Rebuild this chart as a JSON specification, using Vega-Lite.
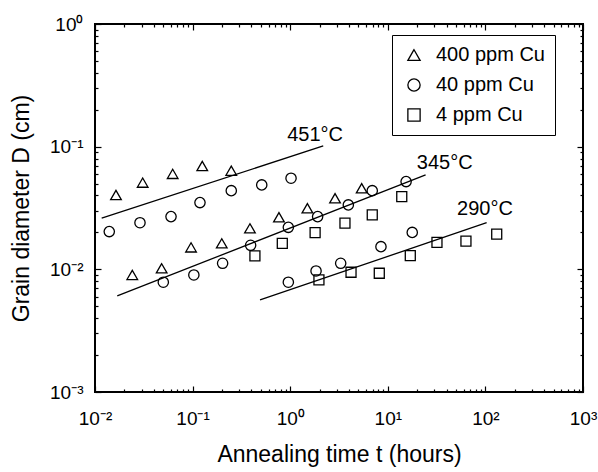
{
  "$schema": "https://vega.github.io/schema/vega-lite/v6.json",
  "autosize": {"type": "none"},
  "padding": {"left": 95, "top": 24, "right": 15, "bottom": 80},
  "width": 488,
  "height": 368,
  "background": "white",
  "config": {
    "view": {"stroke": "black", "strokeWidth": 2},
    "font": "Liberation Sans",
    "axis": {
      "domain": false,
      "grid": false,
      "ticks": true,
      "tickColor": "black",
      "tickOpacity": 1,
      "tickWidth": 1.2,
      "labelColor": "black",
      "labelFont": "Liberation Sans",
      "labelFontSize": 19,
      "labelFlush": false,
      "labelOverlap": false,
      "titleColor": "black",
      "titleFont": "Liberation Sans",
      "titleFontSize": 23,
      "titleFontWeight": "normal"
    }
  },
  "datasets": {
    "pts": [
      {"t": 0.0164, "D": 0.0404, "series": "400 ppm Cu"},
      {"t": 0.0241, "D": 0.0090, "series": "400 ppm Cu"},
      {"t": 0.0308, "D": 0.0509, "series": "400 ppm Cu"},
      {"t": 0.0482, "D": 0.0102, "series": "400 ppm Cu"},
      {"t": 0.0625, "D": 0.0600, "series": "400 ppm Cu"},
      {"t": 0.0964, "D": 0.0151, "series": "400 ppm Cu"},
      {"t": 0.1256, "D": 0.0696, "series": "400 ppm Cu"},
      {"t": 0.199, "D": 0.0163, "series": "400 ppm Cu"},
      {"t": 0.249, "D": 0.0637, "series": "400 ppm Cu"},
      {"t": 0.387, "D": 0.0216, "series": "400 ppm Cu"},
      {"t": 0.767, "D": 0.0266, "series": "400 ppm Cu"},
      {"t": 1.50, "D": 0.0315, "series": "400 ppm Cu"},
      {"t": 2.88, "D": 0.0380, "series": "400 ppm Cu"},
      {"t": 5.40, "D": 0.0458, "series": "400 ppm Cu"},
      {"t": 0.0140, "D": 0.0203, "series": "40 ppm Cu"},
      {"t": 0.0289, "D": 0.0240, "series": "40 ppm Cu"},
      {"t": 0.0601, "D": 0.0269, "series": "40 ppm Cu"},
      {"t": 0.119, "D": 0.0350, "series": "40 ppm Cu"},
      {"t": 0.249, "D": 0.0438, "series": "40 ppm Cu"},
      {"t": 0.511, "D": 0.0488, "series": "40 ppm Cu"},
      {"t": 1.02, "D": 0.0553, "series": "40 ppm Cu"},
      {"t": 0.0501, "D": 0.00785, "series": "40 ppm Cu"},
      {"t": 0.103, "D": 0.0090, "series": "40 ppm Cu"},
      {"t": 0.203, "D": 0.0112, "series": "40 ppm Cu"},
      {"t": 0.393, "D": 0.0157, "series": "40 ppm Cu"},
      {"t": 0.957, "D": 0.0220, "series": "40 ppm Cu"},
      {"t": 1.91, "D": 0.0269, "series": "40 ppm Cu"},
      {"t": 3.94, "D": 0.0335, "series": "40 ppm Cu"},
      {"t": 6.93, "D": 0.0438, "series": "40 ppm Cu"},
      {"t": 15.4, "D": 0.0519, "series": "40 ppm Cu"},
      {"t": 0.957, "D": 0.00785, "series": "40 ppm Cu"},
      {"t": 1.84, "D": 0.0097, "series": "40 ppm Cu"},
      {"t": 3.29, "D": 0.0112, "series": "40 ppm Cu"},
      {"t": 8.51, "D": 0.0153, "series": "40 ppm Cu"},
      {"t": 17.8, "D": 0.0200, "series": "40 ppm Cu"},
      {"t": 0.435, "D": 0.01286, "series": "4 ppm Cu"},
      {"t": 0.830, "D": 0.0163, "series": "4 ppm Cu"},
      {"t": 1.80, "D": 0.0199, "series": "4 ppm Cu"},
      {"t": 3.64, "D": 0.0238, "series": "4 ppm Cu"},
      {"t": 6.93, "D": 0.0278, "series": "4 ppm Cu"},
      {"t": 13.9, "D": 0.0391, "series": "4 ppm Cu"},
      {"t": 1.97, "D": 0.0082, "series": "4 ppm Cu"},
      {"t": 4.20, "D": 0.00947, "series": "4 ppm Cu"},
      {"t": 8.18, "D": 0.00929, "series": "4 ppm Cu"},
      {"t": 17.0, "D": 0.01294, "series": "4 ppm Cu"},
      {"t": 31.9, "D": 0.0166, "series": "4 ppm Cu"},
      {"t": 63.2, "D": 0.0170, "series": "4 ppm Cu"},
      {"t": 130.6, "D": 0.0194, "series": "4 ppm Cu"}
    ],
    "fits": [
      {"t": 0.01171, "D": 0.0261, "temp": "451"},
      {"t": 2.18, "D": 0.1013, "temp": "451"},
      {"t": 0.0169, "D": 0.00607, "temp": "345"},
      {"t": 24.4, "D": 0.0588, "temp": "345"},
      {"t": 0.491, "D": 0.00563, "temp": "290"},
      {"t": 103, "D": 0.0240, "temp": "290"}
    ],
    "labelsA": [
      {"t": 1.80, "D": 0.1245, "label": "451°C"}
    ],
    "labelsB": [
      {"t": 38.3, "D": 0.0741, "label": "345°C"},
      {"t": 99.1, "D": 0.0309, "label": "290°C"}
    ]
  },
  "resolve": {"axis": {"x": "independent", "y": "independent"}},
  "layer": [
    {
      "data": {"name": "fits"},
      "mark": {"type": "line", "color": "black", "strokeWidth": 1.3},
      "encoding": {
        "x": {
          "field": "t", "type": "quantitative",
          "scale": {"type": "log", "domain": [0.01, 1000], "nice": false},
          "axis": {
            "orient": "bottom",
            "title": "Annealing time t (hours)",
            "titlePadding": 15,
            "labelPadding": 17,
            "ticks": true, "tickColor": "black", "tickOpacity": 1, "tickWidth": 1.2,
            "tickSize": 6,
            "offset": -6,
            "values": [0.01, 0.1, 1, 10, 100, 1000],
            "labelExpr": "'10' + ['⁻³','⁻²','⁻¹','⁰','¹','²','³'][round(log(datum.value)/LN10)+3]"
          }
        },
        "y": {
          "field": "D", "type": "quantitative",
          "scale": {"type": "log", "domain": [0.001, 1], "nice": false},
          "axis": {
            "orient": "left",
            "title": "Grain diameter D (cm)",
            "titlePadding": 16,
            "labelPadding": 12,
            "ticks": true, "tickColor": "black", "tickOpacity": 1, "tickWidth": 1.2,
            "tickSize": 6,
            "offset": -6,
            "values": [0.001, 0.01, 0.1, 1],
            "labelExpr": "'10' + ['⁻³','⁻²','⁻¹','⁰','¹','²','³'][round(log(datum.value)/LN10)+3]"
          }
        },
        "detail": {"field": "temp"}
      }
    },
    {
      "data": {"name": "pts"},
      "mark": {"type": "point", "filled": false, "stroke": "black", "strokeWidth": 1.3, "opacity": 1},
      "encoding": {
        "x": {
          "field": "t", "type": "quantitative",
          "axis": {
            "orient": "bottom", "title": null, "labels": false,
            "ticks": true, "tickColor": "black", "tickOpacity": 1, "tickWidth": 1.2,
            "tickSize": 3, "offset": -3,
            "values": [0.02,0.03,0.04,0.05,0.06,0.07,0.08,0.09,0.2,0.3,0.4,0.5,0.6,0.7,0.8,0.9,2,3,4,5,6,7,8,9,20,30,40,50,60,70,80,90,200,300,400,500,600,700,800,900]
          }
        },
        "y": {
          "field": "D", "type": "quantitative",
          "axis": {
            "orient": "left", "title": null, "labels": false,
            "ticks": true, "tickColor": "black", "tickOpacity": 1, "tickWidth": 1.2,
            "tickSize": 3, "offset": -3,
            "values": [0.002,0.003,0.004,0.005,0.006,0.007,0.008,0.009,0.02,0.03,0.04,0.05,0.06,0.07,0.08,0.09,0.2,0.3,0.4,0.5,0.6,0.7,0.8,0.9]
          }
        },
        "shape": {
          "field": "series", "type": "nominal",
          "scale": {"domain": ["400 ppm Cu", "40 ppm Cu", "4 ppm Cu"], "range": ["triangle-up", "circle", "square"]},
          "legend": {
            "title": null, "orient": "none", "legendX": 297, "legendY": 11,
            "strokeColor": "black", "padding": 10,
            "labelFontSize": 20, "labelFont": "Liberation Sans", "labelColor": "black",
            "symbolSize": 150, "symbolStrokeColor": "black", "symbolFillColor": "white",
            "symbolStrokeWidth": 1.3, "rowPadding": 10, "labelOffset": 12, "symbolOffset": 2
          }
        },
        "size": {
          "field": "series", "type": "nominal",
          "scale": {"domain": ["4 ppm Cu", "40 ppm Cu", "400 ppm Cu"], "range": [100, 113, 210]},
          "legend": null
        }
      }
    },
    {
      "data": {"name": "labelsA"},
      "mark": {"type": "text", "fontSize": 20, "font": "Liberation Sans", "color": "black", "align": "center", "baseline": "middle"},
      "encoding": {
        "x": {
          "field": "t", "type": "quantitative",
          "axis": {"orient": "top", "title": null, "labels": false, "ticks": true, "tickColor": "black", "tickOpacity": 1, "tickWidth": 1.2, "tickSize": 6, "offset": -6, "values": [0.01, 0.1, 1, 10, 100, 1000]}
        },
        "y": {
          "field": "D", "type": "quantitative",
          "axis": {"orient": "right", "title": null, "labels": false, "ticks": true, "tickColor": "black", "tickOpacity": 1, "tickWidth": 1.2, "tickSize": 6, "offset": -6, "values": [0.001, 0.01, 0.1, 1]}
        },
        "text": {"field": "label"}
      }
    },
    {
      "data": {"name": "labelsB"},
      "mark": {"type": "text", "fontSize": 20, "font": "Liberation Sans", "color": "black", "align": "center", "baseline": "middle"},
      "encoding": {
        "x": {
          "field": "t", "type": "quantitative",
          "axis": {
            "orient": "top", "title": null, "labels": false,
            "ticks": true, "tickColor": "black", "tickOpacity": 1, "tickWidth": 1.2,
            "tickSize": 3, "offset": -3,
            "values": [0.02,0.03,0.04,0.05,0.06,0.07,0.08,0.09,0.2,0.3,0.4,0.5,0.6,0.7,0.8,0.9,2,3,4,5,6,7,8,9,20,30,40,50,60,70,80,90,200,300,400,500,600,700,800,900]
          }
        },
        "y": {
          "field": "D", "type": "quantitative",
          "axis": {
            "orient": "right", "title": null, "labels": false,
            "ticks": true, "tickColor": "black", "tickOpacity": 1, "tickWidth": 1.2,
            "tickSize": 3, "offset": -3,
            "values": [0.002,0.003,0.004,0.005,0.006,0.007,0.008,0.009,0.02,0.03,0.04,0.05,0.06,0.07,0.08,0.09,0.2,0.3,0.4,0.5,0.6,0.7,0.8,0.9]
          }
        },
        "text": {"field": "label"}
      }
    }
  ]
}
